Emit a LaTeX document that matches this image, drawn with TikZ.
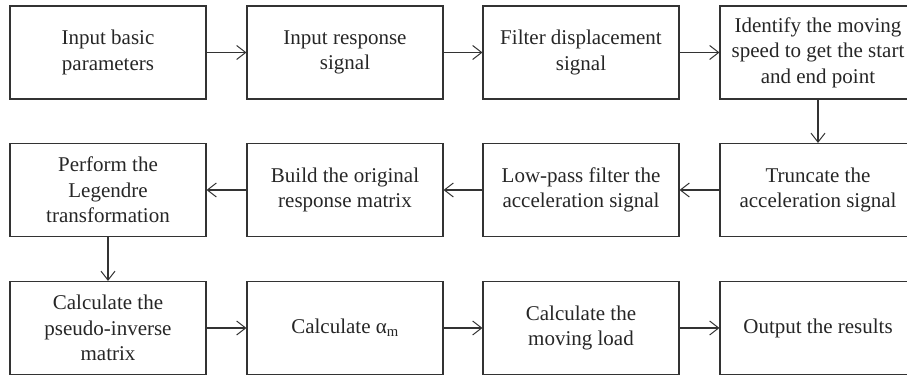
\documentclass[tikz,border=0pt]{standalone}
\usepackage{fontspec}
\setmainfont{Liberation Serif}
\usetikzlibrary{arrows.meta}
\begin{document}
\begin{tikzpicture}[x=1pt,y=1pt,
  stepbox/.style={draw=black!80, line width=1.1pt, minimum width=196pt, minimum height=93pt,
    inner sep=0pt, align=center, text=black!85, font=\fontsize{21}{25.5}\selectfont},
  flow/.style={draw=black!80, line width=1.1pt, -{Straight Barb[length=9pt,width=14pt,line width=1pt]}}]
\clip (0,0) rectangle (907,379);
\node[stepbox] (a1) at (108,326.5) {Input basic\\parameters};
\node[stepbox] (a2) at (345,326.5) {Input response\\signal};
\node[stepbox] (a3) at (581,326.5) {Filter displacement\\signal};
\node[stepbox] (a4) at (818,326.5) {Identify the moving\\speed to get the start\\and end point};
\node[stepbox] (b4) at (818,189) {Truncate the\\acceleration signal};
\node[stepbox] (b3) at (581,189) {Low-pass filter the\\acceleration signal};
\node[stepbox] (b2) at (345,189) {Build the original\\response matrix};
\node[stepbox] (b1) at (108,189) {Perform the\\Legendre\\transformation};
\node[stepbox] (c1) at (108,51) {Calculate the\\pseudo-inverse\\matrix};
\node[stepbox] (c2) at (345,51) {Calculate α\textsubscript{m}};
\node[stepbox] (c3) at (581,51) {Calculate the\\moving load};
\node[stepbox] (c4) at (818,51) {Output the results};
\draw[flow] (a1) -- (a2);
\draw[flow] (a2) -- (a3);
\draw[flow] (a3) -- (a4);
\draw[flow] (a4) -- (b4);
\draw[flow] (b4) -- (b3);
\draw[flow] (b3) -- (b2);
\draw[flow] (b2) -- (b1);
\draw[flow] (b1) -- (c1);
\draw[flow] (c1) -- (c2);
\draw[flow] (c2) -- (c3);
\draw[flow] (c3) -- (c4);
\end{tikzpicture}
\end{document}
